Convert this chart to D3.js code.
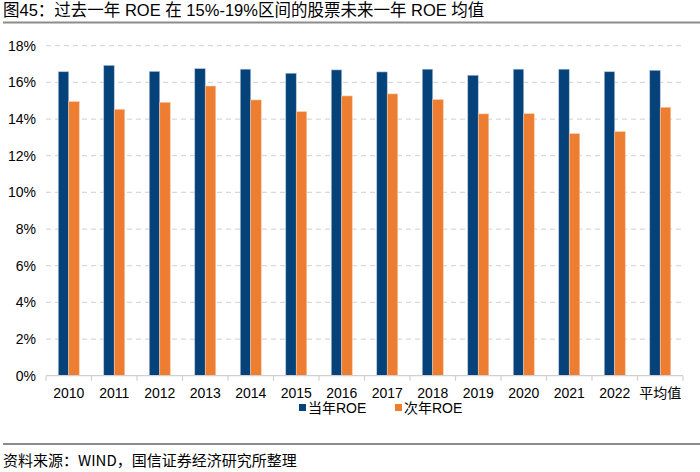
<!DOCTYPE html>
<html>
<head>
<meta charset="utf-8">
<script src="https://cdn.jsdelivr.net/npm/d3@7"></script>
<style>
  body { margin: 0; background: #fff; }
  svg { font-family: "Liberation Sans", Arial, "Noto Sans CJK SC", sans-serif; }
</style>
</head>
<body>
<svg id="chart" width="700" height="472"></svg>
<script>
var categories = ['2010', '2011', '2012', '2013', '2014', '2015', '2016', '2017', '2018', '2019', '2020', '2021', '2022', '平均值'];
var seriesNames = ['当年ROE', '次年ROE'];
var currentRoe = [16.58, 16.93, 16.60, 16.75, 16.72, 16.50, 16.68, 16.57, 16.72, 16.39, 16.72, 16.72, 16.58, 16.66];
var nextRoe = [14.95, 14.53, 14.91, 15.80, 15.04, 14.40, 15.26, 15.37, 15.06, 14.28, 14.29, 13.20, 13.31, 14.64];
var yTicks = [0, 2, 4, 6, 8, 10, 12, 14, 16, 18];
var colors = ['#06427A', '#ED7D31'];

var svg = d3.select('#chart');
var margins = {left: 46, right: 17, top: 45.7, bottom: 96.3};
var width = 700, height = 472;

// title
svg.append('text')
    .attr('x', 3).attr('y', 16)
    .style('font-size', '16.5px')
    .attr('fill', '#000')
    .text('图45：过去一年 ROE 在 15%-19%区间的股票未来一年 ROE 均值');
svg.append('line')
    .attr('x1', 3).attr('x2', 700).attr('y1', 22.5).attr('y2', 22.5)
    .attr('stroke', '#8c8c8c').attr('stroke-width', 2);

var x = d3.scaleBand().domain(categories).range([margins.left, width - margins.right]);
var y = d3.scaleLinear().domain([0, 18]).range([height - margins.bottom, margins.top]);

// gridlines
svg.append('g').selectAll('line')
    .data(yTicks.filter(function(d) { return d > 0; }))
    .enter().append('line')
    .attr('x1', margins.left).attr('x2', width - margins.right)
    .attr('y1', function(d) { return y(d); }).attr('y2', function(d) { return y(d); })
    .attr('stroke', '#d9d9d9').attr('stroke-width', 1.3)
    .attr('stroke-dasharray', '5,4');

// y axis labels
svg.append('g').selectAll('text')
    .data(yTicks).enter().append('text')
    .attr('x', 36).attr('y', function(d) { return y(d); })
    .attr('dy', '0.36em')
    .attr('text-anchor', 'end')
    .style('font-size', '14px')
    .attr('fill', '#000')
    .text(function(d) { return d + '%'; });

// bars
var barW = 10.5;
var series = [currentRoe, nextRoe];
series.forEach(function(vals, si) {
  svg.append('g').selectAll('rect')
      .data(vals).enter().append('rect')
      .attr('x', function(d, i) { return x(categories[i]) + x.bandwidth() / 2 - barW + si * barW; })
      .attr('y', function(d) { return y(d); })
      .attr('width', barW)
      .attr('height', function(d) { return y(0) - y(d); })
      .attr('fill', colors[si])
      .attr('stroke', si === 0 ? '#b9c9dc' : '#f7c9a8')
      .attr('stroke-width', 0.6);
});

// x axis
var xAxis = svg.append('g').attr('transform', 'translate(0,' + y(0) + ')');
xAxis.append('line')
    .attr('x1', margins.left).attr('x2', width - margins.right)
    .attr('stroke', '#d0d0d0').attr('stroke-width', 1.2);
xAxis.selectAll('line.tick')
    .data(categories.concat(['end'])).enter().append('line')
    .classed('tick', true)
    .attr('x1', function(d, i) { return margins.left + i * x.bandwidth(); })
    .attr('x2', function(d, i) { return margins.left + i * x.bandwidth(); })
    .attr('y1', 0).attr('y2', 5)
    .attr('stroke', '#d0d0d0').attr('stroke-width', 1.2);
xAxis.selectAll('text')
    .data(categories).enter().append('text')
    .attr('x', function(d) { return x(d) + x.bandwidth() / 2; })
    .attr('y', 22)
    .attr('text-anchor', 'middle')
    .style('font-size', '14px')
    .style('font-family', function(d) { return d === '平均值' ? '"Noto Sans CJK SC", sans-serif' : null; })
    .attr('fill', '#000')
    .text(function(d) { return d; });

// legend
var legendX = [299, 395];
seriesNames.forEach(function(name, i) {
  var lg = svg.append('g').attr('transform', 'translate(' + legendX[i] + ',408)');
  lg.append('rect').attr('x', 0).attr('y', -4).attr('width', 7).attr('height', 7).attr('fill', colors[i]);
  lg.append('text').attr('x', 9).attr('y', 0).attr('dy', '0.36em')
      .style('font-size', '14px').attr('fill', '#000').text(name);
});

// footer
svg.append('line')
    .attr('x1', 3).attr('x2', 700).attr('y1', 444).attr('y2', 444)
    .attr('stroke', '#8c8c8c').attr('stroke-width', 2);
svg.append('text')
    .attr('x', 3).attr('y', 466)
    .style('font-size', '15px')
    .style('font-family', '"Noto Sans CJK SC", sans-serif')
    .attr('fill', '#000')
    .text('资料来源：WIND，国信证券经济研究所整理');
</script>
</body>
</html>
